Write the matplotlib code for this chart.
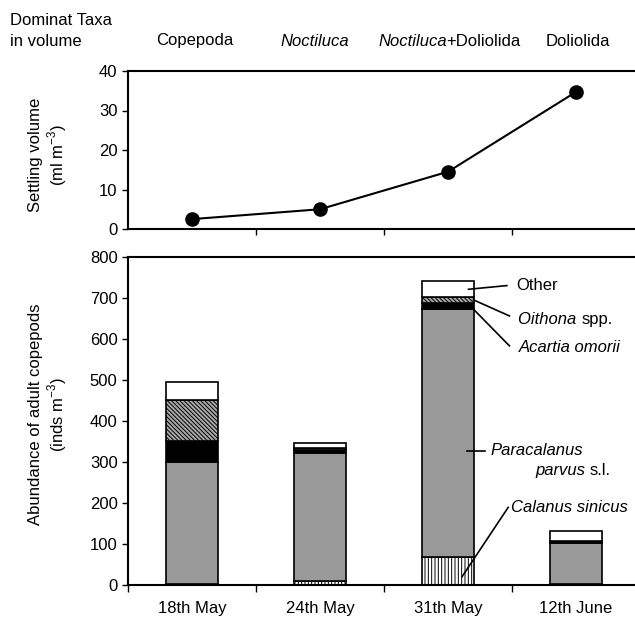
import matplotlib
matplotlib.use("Agg")
import matplotlib.pyplot as plt
import numpy as np
from matplotlib.transforms import offset_copy

plt.rcParams['font.family'] = ['Liberation Sans', 'DejaVu Sans']
plt.rcParams['mathtext.fontset'] = 'custom'
plt.rcParams['mathtext.rm'] = 'Liberation Sans'
plt.rcParams['hatch.linewidth'] = 0.7

dates = ["18th May", "24th May", "31th May", "12th June"]
settling_volume = [2.5, 5.0, 14.5, 34.7]

calanus = [3, 10, 70, 3]
paracalanus = [297, 312, 603, 99]
acartia = [53, 8, 15, 5]
oithona = [100, 4, 15, 0]
other = [42, 12, 39, 25]

W, H = 635, 617
fig = plt.figure(figsize=(W / 100, H / 100), dpi=100)
renderer = fig.canvas.get_renderer()

def px_axes(l, t, r, b):
    return fig.add_axes([l / W, 1 - b / H, (r - l) / W, (b - t) / H])

def two_part(ax_or_fig, x, y, first, second, first_style, second_style, transform, fs):
    """Draw `first` then `second` immediately after it."""
    t1 = ax_or_fig.text(x, y, first, fontsize=fs, va='center', ha='left',
                        style=first_style, transform=transform)
    bb = t1.get_window_extent(renderer=renderer)
    tr = offset_copy(transform, fig=fig, x=bb.width * 72 / fig.dpi, units='points')
    ax_or_fig.text(x, y, second, fontsize=fs, va='center', ha='left',
                   style=second_style, transform=tr)

x = np.arange(len(dates))
FS = 12

# ---- top panel ----
ax1 = px_axes(128, 71, 640, 229)
ax1.plot(x, settling_volume, color='black', lw=1.5, marker='o', ms=9.5)
ax1.set_xlim(-0.5, 3.5)
ax1.set_ylim(0, 40)
ax1.set_yticks([0, 10, 20, 30, 40])
ax1.set_xticks([0.5, 1.5, 2.5])
ax1.set_xticklabels([])
ax1.tick_params(axis='both', direction='out', length=4, width=1, labelsize=12)
for s in ax1.spines.values():
    s.set_linewidth(1.5)
ax1.spines['right'].set_visible(False)
ax1.set_ylabel("Settling volume\n(ml m$^{-3}$)", fontsize=FS, linespacing=1.15)
ax1.yaxis.set_label_coords((69 - 128) / 512, 0.47)

# ---- dominant taxa labels ----
ty = 1 - 41 / H
fig.text(10 / W, 1 - 20.5 / H, "Dominat Taxa", fontsize=FS, va='center', ha='left')
fig.text(10 / W, ty, "in volume", fontsize=FS, va='center', ha='left')
fig.text(195 / W, ty, "Copepoda", fontsize=FS, va='center', ha='center')
fig.text(315 / W, ty, "Noctiluca", fontsize=FS, va='center', ha='center', style='italic')
two_part(fig, 378 / W, ty, "Noctiluca", "+Doliolida", 'italic', 'normal', fig.transFigure, FS)
fig.text(578 / W, ty, "Doliolida", fontsize=FS, va='center', ha='center')

# ---- bottom panel ----
ax2 = px_axes(128, 257.3, 640, 585.3)
bw = 0.4
bottom = np.zeros(len(dates))
layers = [
    (calanus, dict(facecolor='white', hatch='|||||')),
    (paracalanus, dict(facecolor='#999999')),
    (acartia, dict(facecolor='black')),
    (oithona, dict(facecolor='#aaaaaa', hatch='\\\\\\\\\\\\\\\\')),
    (other, dict(facecolor='white')),
]
for vals, style in layers:
    ax2.bar(x, vals, bw, bottom=bottom, edgecolor='black', linewidth=1.2, **style)
    bottom = bottom + np.array(vals)

ax2.set_xlim(-0.5, 3.5)
ax2.set_ylim(0, 800)
ax2.set_yticks(np.arange(0, 801, 100))
ax2.set_xticks(x)
ax2.set_xticklabels(dates)
ax2.set_xticks([-0.5, 0.5, 1.5, 2.5], minor=True)
ax2.tick_params(axis='x', which='major', length=0, pad=11, labelsize=FS)
ax2.tick_params(axis='x', which='minor', direction='out', length=5, width=1)
ax2.tick_params(axis='y', direction='out', length=4, width=1, labelsize=12)
for s in ax2.spines.values():
    s.set_linewidth(1.5)
ax2.spines['right'].set_visible(False)
ax2.set_ylabel("Abundance of adult copepods\n(inds m$^{-3}$)", fontsize=FS, linespacing=1.15)
ax2.yaxis.set_label_coords((69 - 128) / 512, 0.52)

# annotations
lw = 1.2
td = ax2.transData
ax2.plot([2.16, 2.46], [722, 731], color='black', lw=lw)
ax2.text(2.53, 731, "Other", fontsize=FS, va='center', ha='left')
ax2.plot([2.20, 2.48], [696, 657], color='black', lw=lw)
two_part(ax2, 2.55, 648, "Oithona ", "spp.", 'italic', 'normal', td, FS)
ax2.plot([2.20, 2.48], [673, 584], color='black', lw=lw)
ax2.text(2.55, 579, "Acartia omorii", fontsize=FS, va='center', ha='left', style='italic')
ax2.plot([2.15, 2.29], [328, 328], color='black', lw=lw)
ax2.text(2.33, 328, "Paracalanus", fontsize=FS, va='center', ha='left', style='italic')
two_part(ax2, 2.68, 280, "parvus ", "s.l.", 'italic', 'normal', td, FS)
ax2.plot([2.11, 2.47], [21, 190], color='black', lw=lw)
ax2.text(2.49, 190, "Calanus sinicus", fontsize=FS, va='center', ha='left', style='italic')

fig.savefig("out.png", dpi=100)
